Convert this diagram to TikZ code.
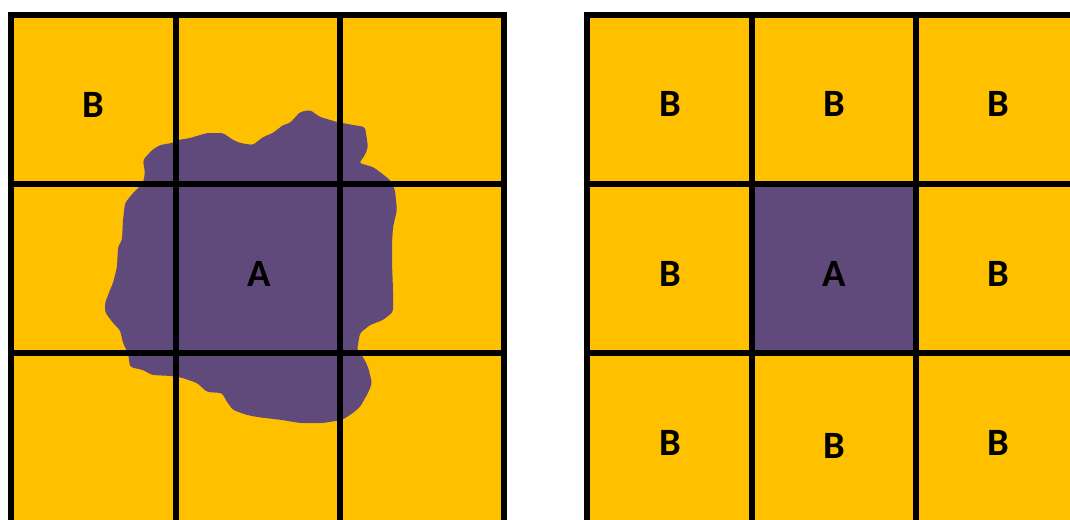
\documentclass[tikz,border=0pt]{standalone}
\usepackage{fontspec}
\setmainfont{Carlito}
\usepackage{xcolor}
\definecolor{cellYellow}{RGB}{255,192,0}
\definecolor{stainPurple}{RGB}{96,74,123}

\begin{document}
\begin{tikzpicture}[x=0.025cm, y=-0.025cm, GRID/.style={line width=4.3pt, black, line cap=rect}, LBL/.style={font=\fontsize{27.5}{32}\selectfont\bfseries}]
    \useasboundingbox (0,0) rectangle (1070,519);
    \clip (0,0) rectangle (1070,519);
    % left grid with irregular region
    \fill[cellYellow] (11,15) rectangle (504,540);
    \fill[stainPurple, rounded corners=2] (290,123) -- (300,112) -- (310,110) -- (320,117) -- (337,122) -- (353,125) -- (365,127) -- (367,140) -- (368,147) -- (365,155) -- (359,163) -- (373,167) -- (380,172) -- (390,180) -- (395,190) -- (397,210) -- (393,227) -- (392,243) -- (392,263) -- (393,290) -- (393,312) -- (383,320) -- (370,325) -- (360,333) -- (357,350) -- (363,357) -- (368,367) -- (372,383) -- (368,393) -- (360,407) -- (353,413) -- (342,420) -- (323,423) -- (300,423) -- (282,420) -- (257,417) -- (247,415) -- (233,410) -- (227,402) -- (222,393) -- (207,392) -- (197,383) -- (183,378) -- (172,376) -- (152,375) -- (143,370) -- (130,367) -- (128,353) -- (123,343) -- (120,330) -- (113,323) -- (105,312) -- (105,303) -- (110,290) -- (113,283) -- (117,267) -- (118,247) -- (122,240) -- (123,220) -- (125,203) -- (133,193) -- (143,183) -- (145,173) -- (143,160) -- (152,150) -- (160,145) -- (172,143) -- (178,140) -- (190,138) -- (207,133) -- (223,133) -- (233,140) -- (240,143) -- (253,145) -- (263,137) -- (273,133) -- (283,125) -- cycle;
    \foreach \x in {11,176,340,504} \draw[GRID] (\x,15) -- (\x,540);
    \foreach \y in {15,184,353} \draw[GRID] (11,\y) -- (504,\y);
    \node[LBL] (lB) at (93,105) {B};
    \node[LBL] (lA) at (259,274) {A};
    % right grid, one cell per class
    \fill[cellYellow] (587,15) rectangle (1100,540);
    \fill[stainPurple] (752,184) rectangle (916,353);
    \foreach \x in {587,752,916,1080} \draw[GRID] (\x,15) -- (\x,540);
    \foreach \y in {15,184,353} \draw[GRID] (587,\y) -- (1080,\y);
    \foreach \n/\x/\y/\t in {rB1/670/104/B, rB2/834/104/B, rB3/998/104/B, rB4/670/274/B, rA/834/274/A, rB5/998/274/B, rB6/670/443/B, rB7/834/446/B, rB8/998/443/B}
        \node[LBL] (\n) at (\x,\y) {\t};
\end{tikzpicture}
\end{document}
